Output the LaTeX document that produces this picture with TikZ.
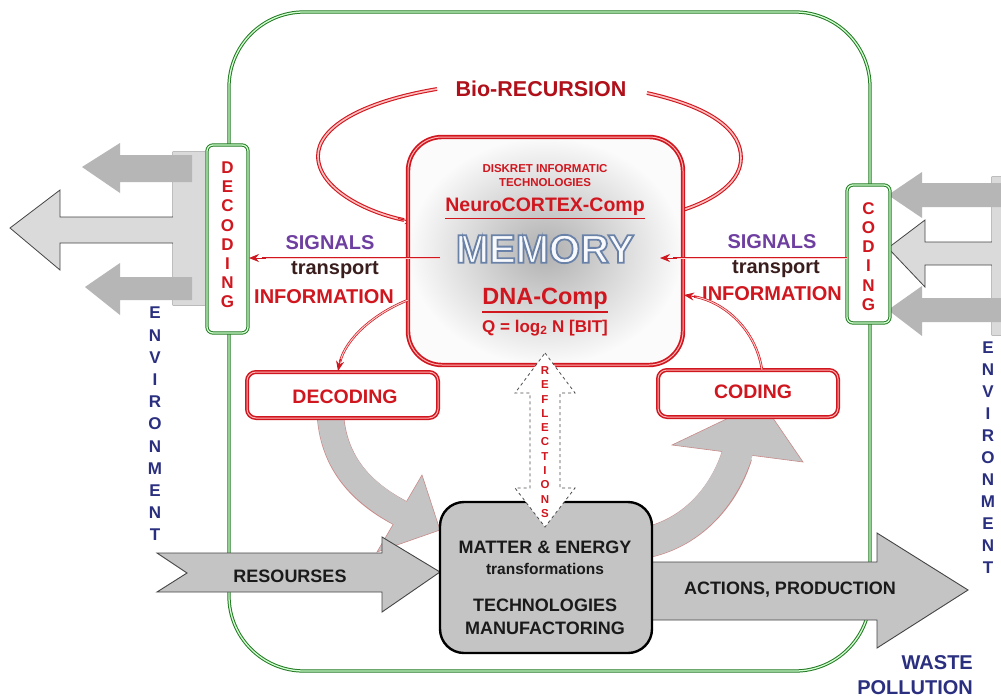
\documentclass[tikz,border=0pt]{standalone}
\usepackage{fontspec}
\setmainfont{Liberation Sans}
\usetikzlibrary{arrows.meta}
\definecolor{rd}{HTML}{D0161E}
\definecolor{rdd}{HTML}{B0101A}
\definecolor{grn}{HTML}{237A23}
\definecolor{navy}{HTML}{2A2F7F}
\definecolor{purp}{HTML}{6E3FA0}
\definecolor{brn}{HTML}{3A1E1E}
\definecolor{ga}{HTML}{B6B6B6}
\definecolor{gb}{HTML}{DADADA}
\definecolor{gc}{HTML}{C4C4C4}
\definecolor{outl}{HTML}{454545}
\definecolor{pinkl}{HTML}{C98A8A}
\definecolor{memfill}{HTML}{F8F9FC}
\definecolor{txtk}{HTML}{1A1A1A}
\newcommand\fsz[2]{\fontsize{#1}{#2}\selectfont\bfseries}
\newcommand\outlinedtext[1]{\special{pdf:literal direct 2 Tr 1.8 w 0.42 0.51 0.66 RG}#1\special{pdf:literal direct 0 Tr}}
\tikzset{
  greenline/.style={draw=grn, double=green!18, double distance=1.3pt, line width=1pt},
  greenbox/.style={greenline, fill=white, rounded corners=6pt},
  redbox/.style={draw=rd, double=red!30, double distance=1pt, line width=1.5pt, fill=white, rounded corners=9pt},
  bioline/.style={draw=rd, double=red!25, double distance=1.6pt, line width=1.1pt},
  thinred/.style={draw=rd, double=red!20, double distance=1pt, line width=0.7pt},
  redtip/.style={draw=rd, line width=1pt, -{Stealth[length=10pt,width=8pt]}},
  vletters/.style={align=center, inner sep=0pt, font=\fsz{17}{19.2}},
  smallarrow/.style={fill=ga, draw=none},
  bigarrow/.style={fill=gb, draw=outl, line width=0.8pt},
  flatarrow/.style={fill=gc, draw=outl, line width=0.9pt},
  txt/.style={inner sep=0pt, text=txtk}
}
\begin{document}
\begin{tikzpicture}[x=1pt,y=-1pt]
\useasboundingbox (0,0) rectangle (1001,699);
\fill[white] (0,0) rectangle (1001,699);

% ---------- outer green cell ----------
\draw[greenline, rounded corners=75pt] (229,12) rectangle (870,671);

% ---------- left environment arrows ----------
\path[bigarrow] (205,152) -- (173,152) -- (173,217) -- (60,217) -- (60,190) -- (10,228) -- (60,270) -- (60,243) -- (173,243) -- (173,305) -- (205,305);
\fill[gb] (173.4,152.4) rectangle (205,304.6);
\path[smallarrow] (192,155) -- (120,155) -- (120,143) -- (82,167) -- (120,193) -- (120,182) -- (192,182) -- cycle;
\path[smallarrow] (192,277) -- (120,277) -- (120,263) -- (85,287) -- (120,315) -- (120,300) -- (192,300) -- cycle;

% ---------- right environment arrows ----------
\path[bigarrow] (1003,177) -- (992,177) -- (992,242) -- (925,242) -- (925,220) -- (888,248) -- (925,287) -- (925,265) -- (992,265) -- (992,335) -- (1003,335);
\fill[gb] (992.4,177.4) rectangle (1003,334.6);
\path[smallarrow] (1003,183) -- (922,183) -- (922,172) -- (888,195) -- (922,218) -- (922,207) -- (1003,207) -- cycle;
\path[smallarrow] (1003,298) -- (922,298) -- (922,286) -- (888,310) -- (922,336) -- (922,322) -- (1003,322) -- cycle;

% ---------- vertical decoding / coding boxes ----------
\node[greenbox, minimum width=41pt, minimum height=188pt] (decv) at (227.5,239) {};
\node[vletters, text=rd] (decvt) at (227.5,235) {D\\E\\C\\O\\D\\I\\N\\G};
\node[greenbox, minimum width=43pt, minimum height=138pt] (codv) at (868.5,254) {};
\node[vletters, text=rd] (codvt) at (868.5,256.5) {C\\O\\D\\I\\N\\G};

% ---------- ENVIRONMENT labels ----------
\node[vletters, text=navy, font=\fsz{17}{22.2}] (envl) at (155,424) {E\\N\\V\\I\\R\\O\\N\\M\\E\\N\\T};
\node[vletters, text=navy, font=\fsz{17}{22}] (envr) at (988,458) {E\\N\\V\\I\\R\\O\\N\\M\\E\\N\\T};

% ---------- big grey curved arrows ----------
\draw[line width=27.2pt, pinkl] (330,405) .. controls (330,462) and (362,493) .. (400,513);
\filldraw[fill=gc, draw=pinkl, line width=0.6pt] (422,475) -- (440,530) -- (377,552) -- cycle;
\draw[line width=26pt, gc, shorten >=-6pt] (330,405) .. controls (330,462) and (362,493) .. (400,513);

\draw[line width=31.2pt, pinkl] (630,545) .. controls (690,540) and (725,495) .. (737,455);
\filldraw[fill=gc, draw=pinkl, line width=0.6pt] (672,445) -- (762,402) -- (803,462) -- cycle;
\draw[line width=30pt, gc, shorten >=-6pt] (630,545) .. controls (690,540) and (725,495) .. (737,455);

% ---------- resources / actions arrows ----------
\path[flatarrow] (157,553) -- (382,553) -- (382,537) -- (440,572) -- (382,612) -- (382,592) -- (157,592) -- (187,573) -- cycle;
\node[txt, font=\fsz{18}{18}] (res) at (290,576) {RESOURSES};
\path[flatarrow] (640,562) -- (877,562) -- (877,533) -- (968,590) -- (877,648) -- (877,620) -- (640,620) -- cycle;
\node[txt, font=\fsz{18}{18}] (act) at (790,590) {ACTIONS, PRODUCTION};

\node[txt, text=navy, font=\fsz{20}{20}, anchor=east] (waste) at (973,663) {WASTE};
\node[txt, text=navy, font=\fsz{20}{20}, anchor=east] (poll) at (973,688) {POLLUTION};

% ---------- Bio-RECURSION ----------
\node[inner sep=0pt, text=rdd, font=\fsz{21.5}{21.5}] (bio) at (541,89) {Bio-RECURSION};
\draw[bioline] (437,89) .. controls (360,102) and (318,128) .. (318,156) .. controls (318,188) and (365,212) .. (404,220);
\coordinate (bioL) at (415,222.5);
\draw[redtip] (398,218.5) -- (bioL);
\draw[bioline] (647,93) .. controls (715,108) and (741,132) .. (741,158) .. controls (741,186) and (705,204) .. (676,212);
\coordinate (bioR) at (666,215);
\draw[redtip] (683,210) -- (bioR);

% ---------- memory box ----------
\node[draw=rd, double=red!30, double distance=1pt, line width=1.7pt, rounded corners=34pt,
      shading=radial, inner color=gray!62, outer color=gray!3,
      minimum width=275pt, minimum height=228pt] (mem) at (545.5,251) {};
\node[inner sep=0pt, text=rd, align=center, font=\fsz{11.5}{14.5}] (disk) at (545,175.5) {DISKRET INFORMATIC\\TECHNOLOGIES};
\node[inner sep=0pt, text=rd, font=\fsz{19.5}{19.5}] (neuro) at (545,207) {NeuroCORTEX-Comp};
\draw[rd, line width=1.6pt] ([yshift=-2.5pt]neuro.south west) -- ([yshift=-2.5pt]neuro.south east);
\node[inner sep=0pt, text=memfill, font=\fsz{40}{40}] (memt) at (545,249) {\outlinedtext{MEMORY}};
\node[inner sep=0pt, text=rd, font=\fsz{23.5}{23.5}] (dna) at (545,299) {DNA-Comp};
\draw[rd, line width=1.8pt] ([yshift=-2.5pt]dna.south west) -- ([yshift=-2.5pt]dna.south east);
\node[inner sep=0pt, text=rd, font=\fsz{17}{17}] (qeq) at (545,328) {Q = log\textsubscript{2} N [BIT]};

% ---------- signals arrows ----------
\coordinate (sigLs) at (440,258);
\coordinate (sigLe) at (249,258);
\draw[thinred] (sigLs) -- (262,258);
\draw[redtip] (266,258) -- (sigLe);
\coordinate (sigRs) at (847,258);
\coordinate (sigRe) at (660,258);
\draw[thinred] (sigRs) -- (673,258);
\draw[redtip] (677,258) -- (sigRe);
\node[inner sep=0pt, text=purp, font=\fsz{20}{20}] (sigl) at (330,243) {SIGNALS};
\node[inner sep=0pt, text=brn, font=\fsz{20}{20}] (trl) at (335,270) {transport};
\node[inner sep=0pt, text=rd, font=\fsz{20}{20}] (infl) at (324,297) {INFORMATION};
\node[inner sep=0pt, text=purp, font=\fsz{20}{20}] (sigr) at (772,242) {SIGNALS};
\node[inner sep=0pt, text=brn, font=\fsz{20}{20}] (trr) at (776,269) {transport};
\node[inner sep=0pt, text=rd, font=\fsz{20}{20}] (infr) at (772,294) {INFORMATION};

% ---------- decoding / coding boxes ----------
\node[redbox, minimum width=191pt, minimum height=46pt] (dec) at (342.5,395) {};
\node[inner sep=0pt, text=rd, font=\fsz{19.5}{19.5}] (dect) at (345,397) {DECODING};
\node[redbox, minimum width=180pt, minimum height=47pt] (cod) at (748,393.5) {};
\node[inner sep=0pt, text=rd, font=\fsz{19.5}{19.5}] (codt) at (753,392) {CODING};

\coordinate (arcDs) at (408,300);
\coordinate (arcDe) at (338,371);
\draw[thinred] (arcDs) .. controls (375,313) and (346,338) .. (340,362);
\draw[redtip] (340.5,359) -- (arcDe);
\coordinate (arcCs) at (762,370);
\coordinate (arcCe) at (684,295);
\draw[thinred] (arcCs) .. controls (756,330) and (725,302) .. (694,296.5);
\draw[redtip] (697,297) -- (arcCe);

% ---------- matter & energy box ----------
\node[fill=gc, draw=black, line width=2.4pt, rounded corners=24pt, minimum width=212pt, minimum height=151pt] (mat) at (546,577.5) {};
\node[txt, font=\fsz{18}{18}] (mat1) at (545,547) {MATTER \& ENERGY};
\node[txt, font=\fsz{15.5}{15.5}] (mat2) at (545,569) {transformations};
\node[txt, font=\fsz{18}{18}] (mat3) at (545,605) {TECHNOLOGIES};
\node[txt, font=\fsz{18}{18}] (mat4) at (545,628) {MANUFACTORING};

% ---------- reflections ----------
\path[fill=white, draw=gray!60!black, dashed, line width=0.8pt] (545,353) -- (575,393) -- (560,393) -- (560,488) -- (575,488) -- (545,527) -- (515,488) -- (530,488) -- (530,393) -- (515,393) -- cycle;
\node[vletters, text=rd, font=\fsz{11.5}{14.3}] (refl) at (545,442) {R\\E\\F\\L\\E\\C\\T\\I\\O\\N\\S};
\end{tikzpicture}
\end{document}
